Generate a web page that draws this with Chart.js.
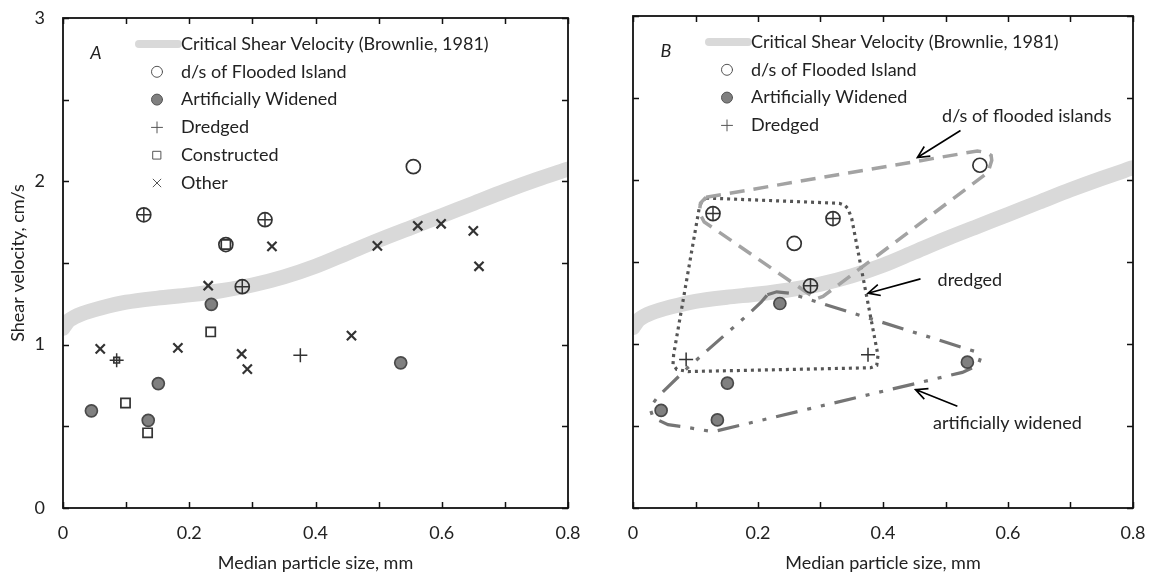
<!DOCTYPE html>
<html>
<head>
<meta charset="utf-8">
<title>Shear velocity vs median particle size</title>
<script src="https://cdn.jsdelivr.net/npm/chart.js@4.4.1/dist/chart.umd.min.js"></script>
<style>
  html, body { margin: 0; padding: 0; background: #fff; }
  #wrap { position: relative; width: 1158px; height: 576px; }
  #chartA { position: absolute; left: 0; top: 0; }
  #chartB { position: absolute; left: 580px; top: 0; }
</style>
</head>
<body>
<div id="wrap">
  <canvas id="chartA" width="580" height="576"></canvas>
  <canvas id="chartB" width="578" height="576"></canvas>
</div>
<script>
// --- data (median particle size mm, shear velocity cm/s) ---
const criticalD = [0, 0.01, 0.03, 0.06, 0.1, 0.15, 0.2, 0.25, 0.3, 0.35, 0.4, 0.45, 0.5, 0.55, 0.6, 0.65, 0.7, 0.75, 0.8];
const criticalU = [1.1, 1.15, 1.19, 1.225, 1.26, 1.285, 1.305, 1.33, 1.365, 1.415, 1.48, 1.56, 1.64, 1.715, 1.79, 1.865, 1.94, 2.01, 2.075];

const floodedD = [0.555, 0.128, 0.32, 0.258, 0.284];
const floodedU = [2.09, 1.795, 1.765, 1.613, 1.355];

const widenedD = [0.045, 0.135, 0.151, 0.235, 0.535];
const widenedU = [0.595, 0.537, 0.762, 1.247, 0.889];

const dredgedD = [0.128, 0.32, 0.284, 0.085, 0.376];
const dredgedU = [1.795, 1.765, 1.355, 0.905, 0.935];

const constructedD = [0.258, 0.234, 0.099, 0.134, 0.085];
const constructedU = [1.613, 1.078, 0.643, 0.46, 0.905];

const otherD = [0.059, 0.182, 0.283, 0.292, 0.457, 0.23, 0.331, 0.498, 0.562, 0.599, 0.65, 0.659];
const otherU = [0.974, 0.98, 0.943, 0.85, 1.055, 1.361, 1.602, 1.605, 1.728, 1.74, 1.697, 1.48];

// hand-drawn groupings in panel B
const floodHullD = [0.117, 0.551, 0.565, 0.573, 0.574, 0.568, 0.304, 0.293, 0.114, 0.106, 0.108, 0.117];
const floodHullU = [1.895, 2.177, 2.168, 2.15, 2.12, 2.046, 1.29, 1.275, 1.744, 1.8, 1.86, 1.895];

const dredgeHullD = [0.117, 0.33, 0.339, 0.344, 0.35, 0.392, 0.39, 0.38, 0.088, 0.07, 0.064, 0.065, 0.106, 0.11, 0.117];
const dredgeHullU = [1.89, 1.858, 1.845, 1.825, 1.764, 0.93, 0.87, 0.855, 0.832, 0.845, 0.875, 0.935, 1.83, 1.87, 1.89];

const widenHullD = [0.215, 0.23, 0.25, 0.547, 0.556, 0.552, 0.527, 0.128, 0.107, 0.08, 0.056, 0.032, 0.027, 0.04, 0.088, 0.187, 0.205, 0.215];
const widenHullU = [1.3, 1.318, 1.31, 0.955, 0.915, 0.87, 0.827, 0.465, 0.478, 0.496, 0.508, 0.551, 0.612, 0.68, 0.857, 1.19, 1.255, 1.3];

// annotation labels and arrows in panel B (data units)
const noteText = ["d/s of flooded islands", "dredged", "artificially widened"];
const noteX = [0.63, 0.539, 0.599];
const noteY = [2.389, 1.391, 0.515];
const arrowFromX = [0.524, 0.46, 0.519];
const arrowFromY = [2.302, 1.397, 0.621];
const arrowToX = [0.455, 0.376, 0.452];
const arrowToY = [2.137, 1.31, 0.722];

const xTitle = "Median particle size, mm";
const yTitle = "Shear velocity, cm/s";
const bandLabel = "Critical Shear Velocity (Brownlie, 1981)";

const FONT = "Lato, 'Open Sans', 'DejaVu Sans', sans-serif";
const FS = 18;
const INK = "#222222";
const MARK = "#333333";

Chart.defaults.font.family = FONT;
Chart.defaults.color = INK;

function toPoints(xs, ys) {
  return xs.map((x, i) => ({ x: x, y: ys[i] }));
}

// ✅ frame, inward ticks, panel letter, legend and notes
const panelDecor = {
  id: "panelDecor",
  afterDatasetsDraw(chart, args, opts) {
    const { ctx, chartArea: a, scales } = chart;
    const xs = scales.x, ys = scales.y;
    ctx.save();

    ctx.strokeStyle = "#111";
    ctx.lineWidth = 1.8;
    ctx.strokeRect(a.left, a.top, a.right - a.left, a.bottom - a.top);

    ctx.beginPath();
    xs.ticks.forEach(t => {
      const px = Math.round(xs.getPixelForValue(t.value)) + 0.5;
      ctx.moveTo(px, a.bottom); ctx.lineTo(px, a.bottom - 6);
      ctx.moveTo(px, a.top); ctx.lineTo(px, a.top + 6);
    });
    ys.ticks.forEach(t => {
      const py = Math.round(ys.getPixelForValue(t.value)) + 0.5;
      ctx.moveTo(a.left, py); ctx.lineTo(a.left + 6, py);
      ctx.moveTo(a.right, py); ctx.lineTo(a.right - 6, py);
    });
    ctx.lineWidth = 1.5;
    ctx.stroke();

    // panel letter
    ctx.fillStyle = INK;
    ctx.font = "italic " + FS + "px " + FONT;
    ctx.textAlign = "center";
    ctx.textBaseline = "middle";
    ctx.fillText(opts.letter, a.left + 33, a.top + 35);

    // legend
    ctx.font = FS + "px " + FONT;
    ctx.textAlign = "left";
    opts.legend.forEach((label, i) => {
      const ds = chart.data.datasets.find(d => d.label === label);
      const cy = a.top + 26 + i * 27.8;
      if (ds.showLine) {
        ctx.strokeStyle = ds.borderColor;
        ctx.lineWidth = 8;
        ctx.lineCap = "round";
        ctx.beginPath();
        ctx.moveTo(a.left + 76, cy); ctx.lineTo(a.left + 115, cy);
        ctx.stroke();
      } else {
        ctx.fillStyle = ds.pointBackgroundColor;
        ctx.strokeStyle = "#555";
        ctx.lineWidth = 1;
        Chart.helpers.drawPoint(ctx, {
          pointStyle: ds.pointStyle,
          radius: 5.5,
          rotation: 0,
          borderWidth: 1
        }, a.left + 94, cy);
      }
      ctx.fillStyle = INK;
      ctx.fillText(label, a.left + 118, cy);
    });

    // notes with arrows
    (opts.notes || []).forEach((txt, i) => {
      ctx.fillStyle = INK;
      ctx.textAlign = "center";
      ctx.fillText(txt, xs.getPixelForValue(noteX[i]), ys.getPixelForValue(noteY[i]));
      const x1 = xs.getPixelForValue(arrowFromX[i]), y1 = ys.getPixelForValue(arrowFromY[i]);
      const x2 = xs.getPixelForValue(arrowToX[i]), y2 = ys.getPixelForValue(arrowToY[i]);
      const ang = Math.atan2(y2 - y1, x2 - x1);
      ctx.strokeStyle = "#000";
      ctx.lineWidth = 1.6;
      ctx.lineCap = "butt";
      ctx.beginPath();
      ctx.moveTo(x1, y1); ctx.lineTo(x2, y2);
      ctx.moveTo(x2 - 13 * Math.cos(ang - 0.45), y2 - 13 * Math.sin(ang - 0.45));
      ctx.lineTo(x2, y2);
      ctx.lineTo(x2 - 13 * Math.cos(ang + 0.45), y2 - 13 * Math.sin(ang + 0.45));
      ctx.stroke();
    });

    ctx.restore();
  }
};

function markerSets(withAll) {
  const sets = [
    {
      label: "Dredged", data: toPoints(dredgedD, dredgedU), order: 0,
      pointStyle: "cross", pointRadius: 7, pointBorderWidth: 1.5,
      pointBorderColor: MARK, pointBackgroundColor: MARK
    },
    {
      label: "d/s of Flooded Island", data: toPoints(floodedD, floodedU), order: 1,
      pointStyle: "circle", pointRadius: 7, pointBorderWidth: 1.7,
      pointBorderColor: MARK, pointBackgroundColor: "rgba(255,255,255,0)"
    },
    {
      label: "Artificially Widened", data: toPoints(widenedD, widenedU), order: 2,
      pointStyle: "circle", pointRadius: 6, pointBorderWidth: 1.7,
      pointBorderColor: "#4a4a4a", pointBackgroundColor: "#808080"
    }
  ];
  if (withAll) {
    sets.push({
      label: "Constructed", data: toPoints(constructedD, constructedU), order: 0,
      pointStyle: "rect", pointRadius: c => (c.raw && c.raw.x < 0.09 ? 4 : 6.5), pointBorderWidth: 1.7,
      pointBorderColor: MARK, pointBackgroundColor: "rgba(255,255,255,0)"
    });
    sets.push({
      label: "Other", data: toPoints(otherD, otherU), order: 0,
      pointStyle: "crossRot", pointRadius: 6.5, pointBorderWidth: 2.2,
      pointBorderColor: MARK, pointBackgroundColor: MARK
    });
  }
  return sets;
}

function bandSet() {
  return {
    label: bandLabel, data: toPoints(criticalD, criticalU), order: 10,
    showLine: true, borderColor: "#d9d9d9", borderWidth: 15, tension: 0.3,
    borderCapStyle: "round", borderJoinStyle: "round", pointRadius: 0, clip: 0
  };
}

function hullSet(label, xs, ys, color, dash, width) {
  return {
    label: label, data: toPoints(xs, ys), order: 5,
    showLine: true, borderColor: color, borderWidth: width, borderDash: dash,
    tension: 0, pointRadius: 0, clip: false
  };
}

function buildOptions(showYLabels, pad, letter, legend, notes) {
  return {
    responsive: false,
    animation: false,
    events: [],
    layout: { padding: pad },
    plugins: {
      legend: { display: false },
      tooltip: { enabled: false },
      panelDecor: { letter: letter, legend: legend, notes: notes }
    },
    scales: {
      x: {
        type: "linear", min: 0, max: 0.8,
        grid: { display: false, drawTicks: false },
        border: { display: false },
        ticks: {
          stepSize: 0.1, autoSkip: false, maxRotation: 0, padding: 14,
          color: INK, font: { size: FS },
          callback: v => (Math.round(v * 10) % 2 === 0 ? (v === 0 ? "0" : v.toFixed(1)) : "")
        },
        title: { display: true, text: xTitle, color: INK, font: { size: FS }, padding: { top: 0, bottom: 2 } },
        afterFit: s => { s.height = 68; s.paddingLeft = 0; s.paddingRight = 0; }
      },
      y: {
        type: "linear", min: 0, max: 3,
        grid: { display: false, drawTicks: false },
        border: { display: false },
        ticks: {
          stepSize: 0.5, autoSkip: false, padding: 18,
          color: INK, font: { size: FS },
          callback: v => (showYLabels && Number.isInteger(v) ? String(v) : "")
        },
        title: { display: showYLabels, text: yTitle, color: INK, font: { size: FS }, padding: { top: 7, bottom: 0 } },
        afterFit: s => { s.width = showYLabels ? 63 : 53; s.paddingTop = 0; s.paddingBottom = 0; }
      }
    }
  };
}

// 📈 Panel A
new Chart(document.getElementById("chartA"), {
  type: "scatter",
  data: { datasets: [...markerSets(true), bandSet()] },
  options: buildOptions(true, { left: 0, right: 12, top: 18, bottom: 0 }, "A",
    [bandLabel, "d/s of Flooded Island", "Artificially Widened", "Dredged", "Constructed", "Other"], null),
  plugins: [panelDecor]
});

// 📉 Panel B
new Chart(document.getElementById("chartB"), {
  type: "scatter",
  data: {
    datasets: [
      ...markerSets(false),
      hullSet("flooded group", floodHullD, floodHullU, "#a3a3a3", [15, 9], 3.5),
      hullSet("dredged group", dredgeHullD, dredgeHullU, "#555555", [3, 4], 3.2),
      hullSet("widened group", widenHullD, widenHullU, "#757575", [22, 10, 4, 10, 4, 10], 3.2),
      bandSet()
    ]
  },
  options: buildOptions(false, { left: 0, right: 25, top: 16, bottom: 0 }, "B",
    [bandLabel, "d/s of Flooded Island", "Artificially Widened", "Dredged"], noteText),
  plugins: [panelDecor]
});
</script>
</body>
</html>
